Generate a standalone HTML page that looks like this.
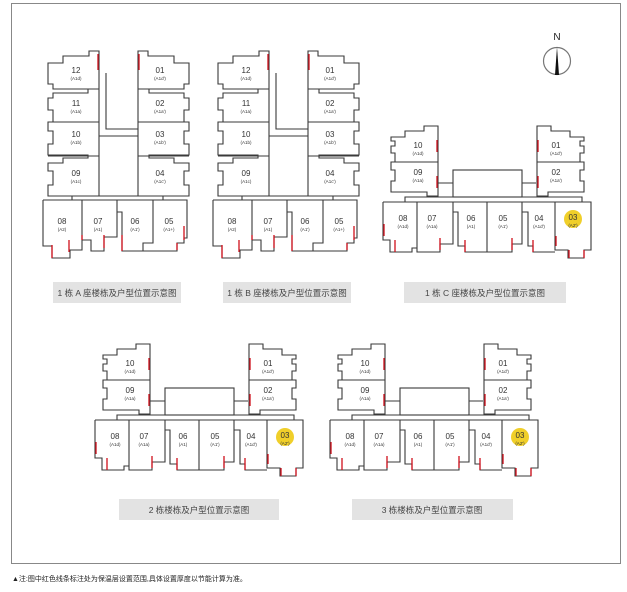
<!DOCTYPE html>
<html><head><meta charset="utf-8"><style>
html,body{margin:0;padding:0;background:#fff;width:627px;height:592px;overflow:hidden}
svg{display:block}
text{font-family:"Liberation Sans","Noto Sans CJK SC",sans-serif;fill:#333;text-anchor:middle}
.n{font-size:8px}.s{font-size:4.5px}
.w{fill:none;stroke:#3a3a3a;stroke-width:1.1}
.r{fill:none;stroke:#d0101b;stroke-width:1.3}
.lb{font-size:8.5px;fill:#444}
</style></head><body>
<svg width="627" height="592" viewBox="0 0 627 592" xmlns="http://www.w3.org/2000/svg">
<rect x="11.5" y="3.5" width="609" height="560" fill="#fff" stroke="#888" stroke-width="1"/>
<defs>
<g id="ltA">
<path class="w" d="M48,63 H63 V56 H89 V51 H99 V196 H48 V185 H53 V171 H48 V163 H63 V158 H88 V155 H48 V144 H53 V131 H48 V122 H53 V110 H48 V98 H53 V93 H88 V89 H53 V84 H48 Z"/>
<path class="w" d="M48,122 H99 M53,89 H99 M48,156 H99"/>
<path class="r" d="M98,54 V70"/>
</g>
<g id="bA">
<use href="#ltA"/>
<use href="#ltA" transform="translate(237,0) scale(-1,1)"/>
<path class="w" d="M106,73 V129 H138 M99,136 H138 M99,196 H138 M72,196 V200 M163,196 V200"/>
<path class="w" d="M43,200 H187 V238 H184 V243 H177 V251 H143 V243 H153 V200 M43,200 V246 H52 V258 H70 V250 H82 V200 M82,240 H91 V251 H104 V237 H117 V200 M117,212 H122 V251 H143"/>
<path class="r" d="M52,245 V258 M69,240 V252 M104,235 V248 M122,235 V251 M177,243 V250 M184,226 V240 M82,235 V240"/>
<text class="n" x="76" y="73">12</text><text class="s" x="76" y="80">(A1d)</text>
<text class="n" x="76" y="106">11</text><text class="s" x="76" y="113">(A1a)</text>
<text class="n" x="76" y="137">10</text><text class="s" x="76" y="144">(A1b)</text>
<text class="n" x="76" y="176">09</text><text class="s" x="76" y="183">(A1c)</text>
<text class="n" x="160" y="73">01</text><text class="s" x="160" y="80">(A1d')</text>
<text class="n" x="160" y="106">02</text><text class="s" x="160" y="113">(A1a')</text>
<text class="n" x="160" y="137">03</text><text class="s" x="160" y="144">(A1b')</text>
<text class="n" x="160" y="176">04</text><text class="s" x="160" y="183">(A1c')</text>
<text class="n" x="62" y="224">08</text><text class="s" x="62" y="231">(A2)</text>
<text class="n" x="98" y="224">07</text><text class="s" x="98" y="231">(A1)</text>
<text class="n" x="135" y="224">06</text><text class="s" x="135" y="231">(A1')</text>
<text class="n" x="169" y="224">05</text><text class="s" x="169" y="231">(A1+)</text>
</g>
<g id="ltC">
<path class="w" d="M391,137 H405 V131 H424 V126 H438 V196 H427 V192 H391 V181 H395 V170 H391 V162 H395 V153 H391 V146 H395 V141 H391 Z M391,162 H438"/>
<path class="r" d="M437,140 V152 M437,176 V188"/>
</g>
<g id="bC">
<use href="#ltC"/>
<use href="#ltC" transform="translate(975,0) scale(-1,1)"/>
<rect class="w" x="453" y="170" width="69" height="27"/>
<path class="w" d="M438,183 H453 M522,183 H536 M405,202 V197 H453 M522,197 H582 V202"/>
<path class="w" d="M383,202 H591 V250 H584 V258 H568 V250 H555 V202 M383,202 V240 H390 V252 H412 V248 H417 V202 M417,242 V252 H440 V244 H453 V202 M453,212 H458 V246 H465 V252 H487 V202 M487,252 H512 V244 H522 V202 M522,212 H528 V246 H533 V252 H555"/>
<path class="r" d="M384,224 V236 M395,240 V252 M440,238 V250 M465,240 V252 M512,238 V250 M533,240 V252 M556,236 V246 M569,250 V258 M584,250 V258"/>
<text class="n" x="418" y="148">10</text><text class="s" x="418" y="155">(A1d)</text>
<text class="n" x="418" y="175">09</text><text class="s" x="418" y="182">(A1a)</text>
<text class="n" x="556" y="148">01</text><text class="s" x="556" y="155">(A1d')</text>
<text class="n" x="556" y="175">02</text><text class="s" x="556" y="182">(A1a')</text>
<text class="n" x="403" y="221">08</text><text class="s" x="403" y="228">(A1d)</text>
<text class="n" x="432" y="221">07</text><text class="s" x="432" y="228">(A1a)</text>
<text class="n" x="471" y="221">06</text><text class="s" x="471" y="228">(A1)</text>
<text class="n" x="503" y="221">05</text><text class="s" x="503" y="228">(A1')</text>
<text class="n" x="539" y="221">04</text><text class="s" x="539" y="228">(A1d')</text>
<circle cx="573" cy="219" r="9" fill="#f0cf2a"/>
<text class="n" x="573" y="220">03</text><text class="s" x="573" y="227">(A2')</text>
</g>
</defs>
<use href="#bA"/>
<use href="#bA" transform="translate(170,0)"/>
<use href="#bC"/>
<use href="#bC" transform="translate(-288,218)"/>
<use href="#bC" transform="translate(-53,218)"/>

<rect x="53" y="282" width="128" height="21" fill="#e3e3e3"/>
<text class="lb" x="117" y="296">1 栋 A 座楼栋及户型位置示意图</text>
<rect x="223" y="282" width="128" height="21" fill="#e3e3e3"/>
<text class="lb" x="287" y="296">1 栋 B 座楼栋及户型位置示意图</text>
<rect x="404" y="282" width="162" height="21" fill="#e3e3e3"/>
<text class="lb" x="485" y="296">1 栋 C 座楼栋及户型位置示意图</text>
<rect x="119" y="499" width="160" height="21" fill="#e3e3e3"/>
<text class="lb" x="199" y="513">2 栋楼栋及户型位置示意图</text>
<rect x="352" y="499" width="161" height="21" fill="#e3e3e3"/>
<text class="lb" x="432" y="513">3 栋楼栋及户型位置示意图</text>

<text x="557" y="40" style="font-size:10px;fill:#222">N</text>
<circle cx="557" cy="61" r="13.5" fill="none" stroke="#777" stroke-width="1.2"/>
<polygon points="557,47 555,75 559,75" fill="#111"/>

<text x="12" y="581" style="font-size:7px;text-anchor:start;fill:#222">▲注:图中红色线条标注处为保温层设置范围,具体设置厚度以节能计算为准。</text>
</svg>
</body></html>
